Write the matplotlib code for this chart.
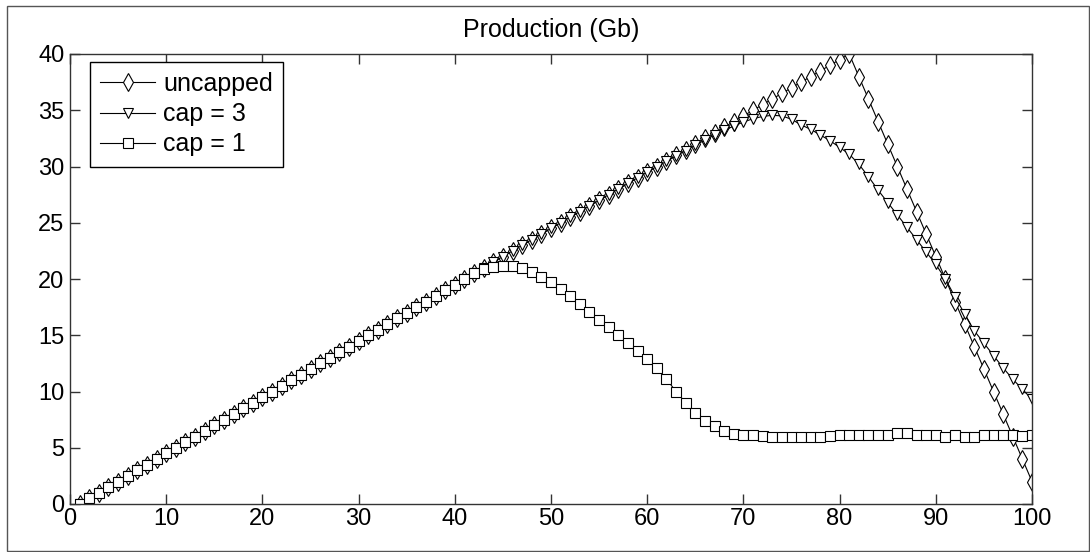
import matplotlib
matplotlib.use("Agg")
import matplotlib.pyplot as plt
from matplotlib.patches import Rectangle

plt.rcParams['font.family'] = ['Liberation Sans', 'DejaVu Sans']

years = list(range(1, 101))

uncapped = [
    0, 0.5, 1, 1.5, 2, 2.5, 3, 3.5, 4, 4.5,
    5, 5.5, 6, 6.5, 7, 7.5, 8, 8.5, 9, 9.5,
    10, 10.5, 11, 11.5, 12, 12.5, 13, 13.5, 14, 14.5,
    15, 15.5, 16, 16.5, 17, 17.5, 18, 18.5, 19, 19.5,
    20, 20.5, 21, 21.5, 22, 22.5, 23, 23.5, 24, 24.5,
    25, 25.5, 26, 26.5, 27, 27.5, 28, 28.5, 29, 29.5,
    30, 30.5, 31, 31.5, 32, 32.5, 33, 33.5, 34, 34.5,
    35, 35.5, 36, 36.5, 37, 37.5, 38, 38.5, 39, 39.5,
    40, 38, 36, 34, 32, 30, 28, 26, 24, 22,
    20, 18, 16, 14, 12, 10, 8, 6, 4, 2,
]

cap3 = [
    0, 0.5, 1, 1.5, 2, 2.5, 3, 3.5, 4, 4.5,
    5, 5.5, 6, 6.5, 7, 7.5, 8, 8.5, 9, 9.5,
    10, 10.5, 11, 11.5, 12, 12.5, 13, 13.5, 14, 14.5,
    15, 15.5, 16, 16.5, 17, 17.5, 18, 18.5, 19, 19.5,
    20, 20.5, 21, 21.5, 22, 22.5, 23, 23.5, 24, 24.5,
    25, 25.5, 26, 26.5, 27, 27.5, 28, 28.5, 29, 29.5,
    30.0, 30.45, 30.95, 31.4, 31.9, 32.35, 32.8, 33.2, 33.6, 33.95,
    34.25, 34.45, 34.55, 34.5, 34.2, 33.7, 33.3, 32.8, 32.3, 31.7,
    31.1, 30.2, 29.1, 27.9, 26.8, 25.7, 24.6, 23.5, 22.4, 21.3,
    20.0, 18.4, 16.9, 15.4, 14.3, 13.2, 12.1, 11.1, 10.2, 9.3,
]

cap1 = [
    0, 0.5, 1, 1.5, 2, 2.5, 3, 3.5, 4, 4.5,
    5, 5.5, 6, 6.5, 7, 7.5, 8, 8.5, 9, 9.5,
    10, 10.5, 11, 11.5, 12, 12.5, 13, 13.5, 14, 14.5,
    15, 15.5, 16, 16.5, 17, 17.5, 18, 18.5, 19, 19.5,
    20, 20.5, 20.9, 21.1, 21.2, 21.2, 20.95, 20.6, 20.2, 19.7,
    19.1, 18.5, 17.8, 17.1, 16.4, 15.7, 15.0, 14.3, 13.6, 12.9,
    12.1, 11.1, 10.0, 9.0, 8.1, 7.4, 6.9, 6.5, 6.25, 6.15,
    6.1, 6.05, 6.0, 6.0, 6.0, 6.0, 6.0, 6.0, 6.05, 6.1,
    6.1, 6.1, 6.1, 6.1, 6.1, 6.3, 6.3, 6.1, 6.1, 6.1,
    6.0, 6.1, 6.0, 6.0, 6.1, 6.1, 6.1, 6.1, 6.05, 6.15,
]

labels = ["uncapped", "cap = 3", "cap = 1"]
x_ticks = list(range(0, 101, 10))
y_ticks = list(range(0, 41, 5))

fig = plt.figure(figsize=(10.9, 5.52), dpi=100)
fig.patch.set_facecolor('white')
# outer frame like the original screenshot
fig.add_artist(Rectangle((7/1090, 1/552), 1 - 7/1090 - 0.0005, 1 - 1/552 - 6/552,
                         transform=fig.transFigure, fill=False,
                         edgecolor='#555555', linewidth=1.0))

ax = fig.add_axes([70/1090, 48/552, 962/1090, 450/552])

common = dict(color='black', linewidth=0.8, markerfacecolor='white',
              markeredgecolor='black', markeredgewidth=0.8)
ax.plot(years, uncapped, marker='d', markersize=9, label=labels[0], **common)
ax.plot(years, cap3, marker='v', markersize=7.5, label=labels[1], **common)
ax.plot(years, cap1, marker='s', markersize=7, label=labels[2], **common)

ax.set_xlim(0, 100)
ax.set_ylim(0, 40)
ax.set_xticks(x_ticks)
ax.set_yticks(y_ticks)
ax.tick_params(axis='both', direction='in', length=7, width=1, top=True, right=True,
               labelsize=17, color='#333333')
ax.tick_params(axis='x', pad=3)
ax.tick_params(axis='y', pad=4)
for s in ax.spines.values():
    s.set_linewidth(1.0)
    s.set_color('#333333')

ax.set_title("Production (Gb)", fontsize=18, pad=12)

leg = ax.legend(loc='upper left', bbox_to_anchor=(20/962, 1 - 8/450),
                borderaxespad=0, fontsize=18, handlelength=2.2,
                handletextpad=0.32, labelspacing=0.25, borderpad=0.4,
                fancybox=False, framealpha=1, edgecolor='black')
leg.get_frame().set_linewidth(1.0)

fig.savefig("out.png", dpi=100)
